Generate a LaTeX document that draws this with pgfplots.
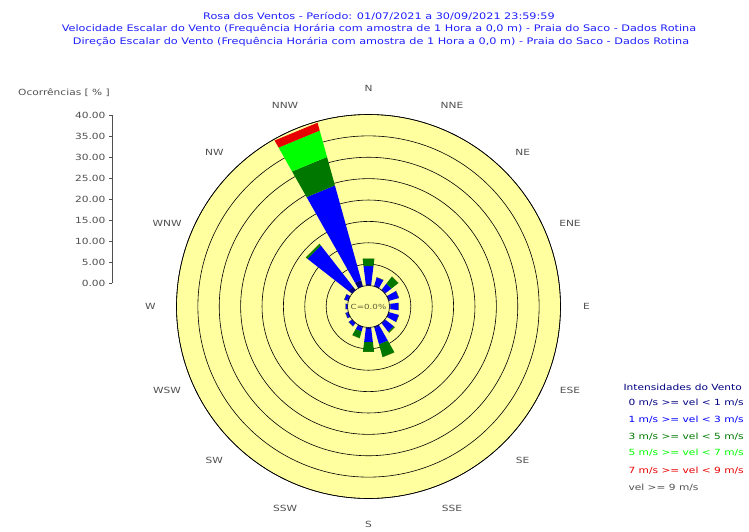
\documentclass[border=0pt]{standalone}
\usepackage{pgfplots}
\pgfplotsset{compat=1.18}
\usepgfplotslibrary{polar}
\usepackage{pgfplotstable}
\usepackage{fontspec}
\setmainfont{DejaVu Sans}[FakeStretch=1.25]
\definecolor{bgyellow}{RGB}{255,255,160}
\definecolor{cnavy}{RGB}{0,0,128}
\definecolor{cblue}{RGB}{0,0,255}
\definecolor{cdkgreen}{RGB}{0,120,0}
\definecolor{cgreen}{RGB}{0,255,0}
\definecolor{cred}{RGB}{230,0,0}
\definecolor{titleblue}{RGB}{30,30,255}
\definecolor{labgray}{RGB}{80,80,80}
\pgfplotstableread{
dir n b dg g r
0 0.4 4.2 1.8 0 0
22.5 0.3 1.9 0 0 0
45 0.3 1.6 2.1 0 0
67.5 0.3 2.2 0 0 0
90 0.3 1.9 0 0 0
112.5 0.3 2.2 0 0 0
135 0.3 2.3 0.3 0 0
157.5 0.4 3.9 3.1 0 0
180 0.4 3.1 2.3 0 0
202.5 0.3 0.9 1.6 0 0
225 0.3 0.7 0 0 0
247.5 0.3 0.4 0 0 0
270 0.2 0.3 0 0 0
292.5 0.3 0.7 0 0 0
315 1.0 12.2 0.5 0 0
337.5 1.5 23.0 6.9 6.4 1.9
}\rosedata
\newcommand\rosewedge[2]{%
  \pgfplotstablegetelem{\i}{#1}\of\rosedata
  \pgfmathsetmacro\hi{\lo+\pgfplotsretval}%
  \edef\temp{\noexpand\addplot[fill=#2,draw=none,forget plot] coordinates {(\aL,\lo) (\aR,\lo) (\aR,\hi) (\aL,\hi) (\aL,\lo)};}%
  \temp
  \let\lo\hi
}
\begin{document}
\begin{tikzpicture}[x=1pt,y=1pt]
\path[use as bounding box] (0pt,0pt) rectangle (749pt,531pt);
% titles
\begin{scope}[every node/.style={font=\fontsize{9}{10}\selectfont, text=titleblue}]
\node at (379pt,515pt) {Rosa dos Ventos - Período: 01/07/2021 a 30/09/2021 23:59:59};
\node at (379pt,502pt) {Velocidade Escalar do Vento (Frequência Horária com amostra de 1 Hora a 0,0 m) - Praia do Saco - Dados Rotina};
\node at (381pt,489pt) {Direção Escalar do Vento (Frequência Horária com amostra de 1 Hora a 0,0 m) - Praia do Saco - Dados Rotina};
\end{scope}
% scale axis
\begin{axis}[
  at={(112pt,248pt)}, anchor=south west,
  width=10pt, height=168pt, scale only axis,
  xmin=0, xmax=1, ymin=0, ymax=40,
  hide x axis, axis y line*=left,
  ytick={0,5,...,40},
  tick align=outside, major tick length=3pt,
  axis line style={labgray}, tick style={labgray},
  yticklabel style={font=\fontsize{8.5}{9}\selectfont, text=labgray},
  /pgf/number format/assume math mode=true,
  yticklabel={\pgfmathprintnumber[fixed,fixed zerofill,precision=2]{\tick}},
]
\addplot[draw=none] coordinates {(0,0)};
\end{axis}
\node[font=\fontsize{8.5}{9}\selectfont, text=labgray] at (64pt,438pt) {Ocorrências [ \% ]};
% rose
\begin{polaraxis}[
  at={(368.5pt,224.5pt)}, anchor=center,
  width=384pt, height=384pt, scale only axis,
  ymin=0, ymax=44.9,
  xtick=\empty,
  ytick={4.9,9.9,14.9,19.9,24.9,29.9,34.9,39.9,44.9},
  yticklabels={}, major tick length=0pt,
  ymajorgrids, grid style={black, line width=0.6pt},
  separate axis lines,
  x axis line style={black, line width=0.6pt},
  y axis line style={draw=none},
  axis background/.style={fill=bgyellow},
  clip=false,
]
\pgfplotsforeachungrouped \i in {0,...,15}{%
  \pgfplotstablegetelem{\i}{dir}\of\rosedata
  \pgfmathsetmacro\aL{90-\pgfplotsretval-7}%
  \pgfmathsetmacro\aR{90-\pgfplotsretval+7}%
  \def\lo{4.9}%
  \rosewedge{n}{cnavy}\rosewedge{b}{cblue}\rosewedge{dg}{cdkgreen}\rosewedge{g}{cgreen}\rosewedge{r}{cred}%
}
\begin{scope}[every node/.style={font=\fontsize{8.5}{9}\selectfont, text=labgray}]
\node at (axis cs:90,51) {N};
\node at (axis cs:67.5,51) {NNE};
\node at (axis cs:45,51) {NE};
\node at (axis cs:22.5,51) {ENE};
\node at (axis cs:0,51) {E};
\node at (axis cs:-22.5,51) {ESE};
\node at (axis cs:-45,51) {SE};
\node at (axis cs:-67.5,51) {SSE};
\node at (axis cs:-90,51) {S};
\node at (axis cs:-112.5,51) {SSW};
\node at (axis cs:-135,51) {SW};
\node at (axis cs:-157.5,51) {WSW};
\node at (axis cs:180,51) {W};
\node at (axis cs:157.5,51) {WNW};
\node at (axis cs:135,51) {NW};
\node at (axis cs:112.5,51) {NNW};
\node[font=\fontsize{7}{7}\selectfont, text=labgray!70!olive, inner sep=0pt] at (axis cs:0,0) {C=0.0\%};
\end{scope}
\end{polaraxis}
% legend
\begin{scope}[every node/.style={font=\fontsize{8.5}{9}\selectfont, anchor=west}]
\node[text=cnavy] at (620pt,144pt) {Intensidades do Vento};
\node[text=cnavy] at (625pt,128pt) {0 m/s >= vel < 1 m/s};
\node[text=cblue] at (625pt,111pt) {1 m/s >= vel < 3 m/s};
\node[text=cdkgreen] at (625pt,94pt) {3 m/s >= vel < 5 m/s};
\node[text=cgreen] at (625pt,78pt) {5 m/s >= vel < 7 m/s};
\node[text=cred] at (625pt,60pt) {7 m/s >= vel < 9 m/s};
\node[text=labgray] at (625pt,43pt) {vel >= 9 m/s};
\end{scope}
\end{tikzpicture}
\end{document}
